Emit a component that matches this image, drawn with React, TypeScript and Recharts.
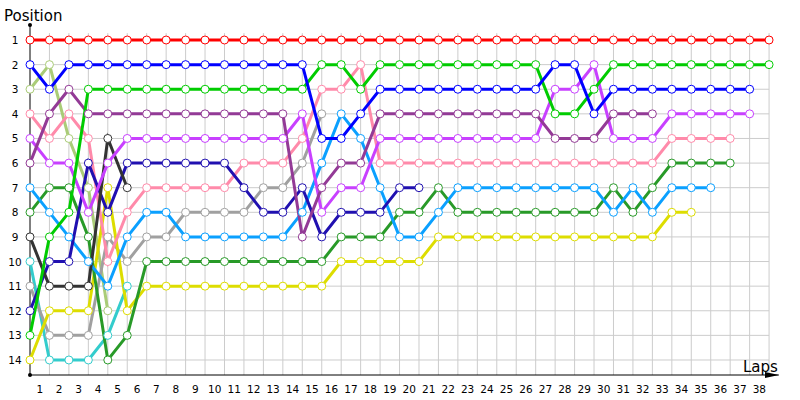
import React from 'react';
import { LineChart, Line, XAxis, YAxis, ReferenceLine } from 'recharts';

// Laps 0 (start) .. 38
const laps = [0,1,2,3,4,5,6,7,8,9,10,11,12,13,14,15,16,17,18,19,20,21,22,23,24,25,26,27,28,29,30,31,32,33,34,35,36,37,38];
const lapLabels = [1,2,3,4,5,6,7,8,9,10,11,12,13,14,15,16,17,18,19,20,21,22,23,24,25,26,27,28,29,30,31,32,33,34,35,36,37,38];
const positions = [1,2,3,4,5,6,7,8,9,10,11,12,13,14];

// position per lap, starting with lap 0; series stop when the driver retires
const red = [1,1,1,1,1,1,1,1,1,1,1,1,1,1,1,1,1,1,1,1,1,1,1,1,1,1,1,1,1,1,1,1,1,1,1,1,1,1,1];
const blue = [2,3,2,2,2,2,2,2,2,2,2,2,2,2,2,5,5,4,3,3,3,3,3,3,3,3,3,2,2,4,3,3,3,3,3,3,3,3];
const green = [13,9,8,3,3,3,3,3,3,3,3,3,3,3,3,2,2,3,2,2,2,2,2,2,2,2,2,4,4,3,2,2,2,2,2,2,2,2,2];
const darkPurple = [6,4,3,4,4,4,4,4,4,4,4,4,4,4,9,7,6,6,4,4,4,4,4,4,4,4,4,5,5,5,4,4,4];
const magenta = [5,6,6,8,6,5,5,5,5,5,5,5,5,5,4,8,7,7,5,5,5,5,5,5,5,5,5,3,3,2,5,5,5,4,4,4,4,4];
const pink = [4,5,4,5,10,8,7,7,7,7,7,6,6,6,5,3,3,2,6,6,6,6,6,6,6,6,6,6,6,6,6,6,6,5,5,5,5];
const darkBlue = [12,10,10,6,8,6,6,6,6,6,6,7,8,8,7,9,8,8,8,7,7];
const lightBlue = [7,8,9,10,11,9,8,8,9,9,9,9,9,9,8,6,4,5,7,9,9,8,7,7,7,7,7,7,7,7,8,7,8,7,7,7];
const darkGreen = [8,7,7,9,14,13,10,10,10,10,10,10,10,10,10,10,9,9,9,8,8,7,8,8,8,8,8,8,8,8,7,8,7,6,6,6,6];
const darkGray = [9,11,11,11,5,7];
const gray = [11,13,13,13,9,10,9,9,8,8,8,8,7,7,6,4];
const yellow = [14,12,12,12,7,12,11,11,11,11,11,11,11,11,11,11,10,10,10,10,10,9,9,9,9,9,9,9,9,9,9,9,9,8,8];
const lightGreen = [3,2,5,7,12];
const cyan = [10,14,14,14,13,11];

const series = [
  { key: 'cyan', values: cyan, color: '#33cccc' },
  { key: 'lightGreen', values: lightGreen, color: '#aacc77' },
  { key: 'gray', values: gray, color: '#a0a0a0' },
  { key: 'yellow', values: yellow, color: '#dddd00' },
  { key: 'darkGreen', values: darkGreen, color: '#289a28' },
  { key: 'lightBlue', values: lightBlue, color: '#0aa0ff' },
  { key: 'pink', values: pink, color: '#ff8aaa' },
  { key: 'darkBlue', values: darkBlue, color: '#2010b0' },
  { key: 'darkGray', values: darkGray, color: '#333333' },
  { key: 'magenta', values: magenta, color: '#c840ff' },
  { key: 'darkPurple', values: darkPurple, color: '#933a96' },
  { key: 'green', values: green, color: '#00cc00' },
  { key: 'blue', values: blue, color: '#0000ff' },
  { key: 'red', values: red, color: '#ff0000' },
];

const data = laps.map((lap, i) => {
  const row: Record<string, number | null> = { lap };
  series.forEach((s) => {
    row[s.key] = i < s.values.length ? s.values[i] : null;
  });
  return row;
});

const FONT = 'DejaVu Sans, Verdana, sans-serif';
const Y_DOMAIN: [number, number] = [0.39, 14.61];

const LeftTick = (p: any) => (
  <text x={15} y={p.y} dy={4} textAnchor="middle" fontSize={10.5} fontFamily={FONT} fill="#000">
    {p.payload.value}
  </text>
);
const RightTick = (p: any) => (
  <text x={777} y={p.y} dy={4} textAnchor="start" fontSize={10.5} fontFamily={FONT} fill="#000">
    {p.payload.value}
  </text>
);
const XTick = (p: any) => (
  <text x={p.x} y={393} textAnchor="middle" fontSize={10.5} fontFamily={FONT} fill="#000">
    {Math.round(p.payload.value + 0.5)}
  </text>
);

export default function App() {
  return (
    <div style={{ position: 'absolute', left: 0, top: 0, width: 800, height: 400, background: '#fff', fontFamily: FONT }}>
      <LineChart width={800} height={400} data={data} margin={{ top: 25, right: 0, bottom: 0, left: 0 }}>
        <XAxis
          type="number"
          dataKey="lap"
          domain={[0, 38.5]}
          ticks={lapLabels.map((l) => l - 0.5)}
          tick={<XTick />}
          interval={0}
          tickLine={false}
          axisLine={{ stroke: '#000', strokeWidth: 1 }}
          height={25}
        />
        <YAxis
          type="number"
          domain={Y_DOMAIN}
          reversed
          ticks={positions}
          tick={<LeftTick />}
          interval={0}
          tickLine={false}
          axisLine={false}
          width={30}
        />
        <YAxis
          yAxisId="r"
          orientation="right"
          type="number"
          domain={Y_DOMAIN}
          reversed
          ticks={positions}
          tick={<RightTick />}
          interval={0}
          tickLine={false}
          axisLine={false}
          width={21.2}
        />
        {positions.map((p) => (
          <ReferenceLine
            key={'h' + p}
            segment={[{ x: 0, y: p }, { x: 38, y: p }]}
            stroke="#cccccc"
            strokeWidth={1}
            ifOverflow="visible"
          />
        ))}
        {laps.slice(1).map((l) => (
          <ReferenceLine
            key={'v' + l}
            segment={[{ x: l, y: 0.72 }, { x: l, y: Y_DOMAIN[1] }]}
            stroke="#cccccc"
            strokeWidth={1}
            ifOverflow="visible"
          />
        ))}
        <ReferenceLine
          segment={[{ x: 0, y: Y_DOMAIN[0] }, { x: 0, y: Y_DOMAIN[1] }]}
          stroke="#000000"
          strokeWidth={1}
          ifOverflow="visible"
        />
        {series.map((s) => (
          <Line
            key={s.key}
            type="linear"
            dataKey={s.key}
            stroke={s.color}
            strokeWidth={3}
            dot={{ r: 4, fill: '#ffffff', stroke: s.color, strokeWidth: 1, clipDot: false }}
            activeDot={false}
            connectNulls={false}
            isAnimationActive={false}
          />
        ))}
      </LineChart>
      <svg width={800} height={400} style={{ position: 'absolute', left: 0, top: 0, pointerEvents: 'none' }}>
        <text x={4} y={21} fontSize={15} fontFamily={FONT} fill="#000">Position</text>
        <circle cx={30} cy={25} r={2} fill="#000" />
        <circle cx={30} cy={375} r={2} fill="#000" />
        <polygon points="765,372 779,375 765,378" fill="#000" />
        <text x={743} y={372} fontSize={15} fontFamily={FONT} fill="#000">Laps</text>
      </svg>
    </div>
  );
}
